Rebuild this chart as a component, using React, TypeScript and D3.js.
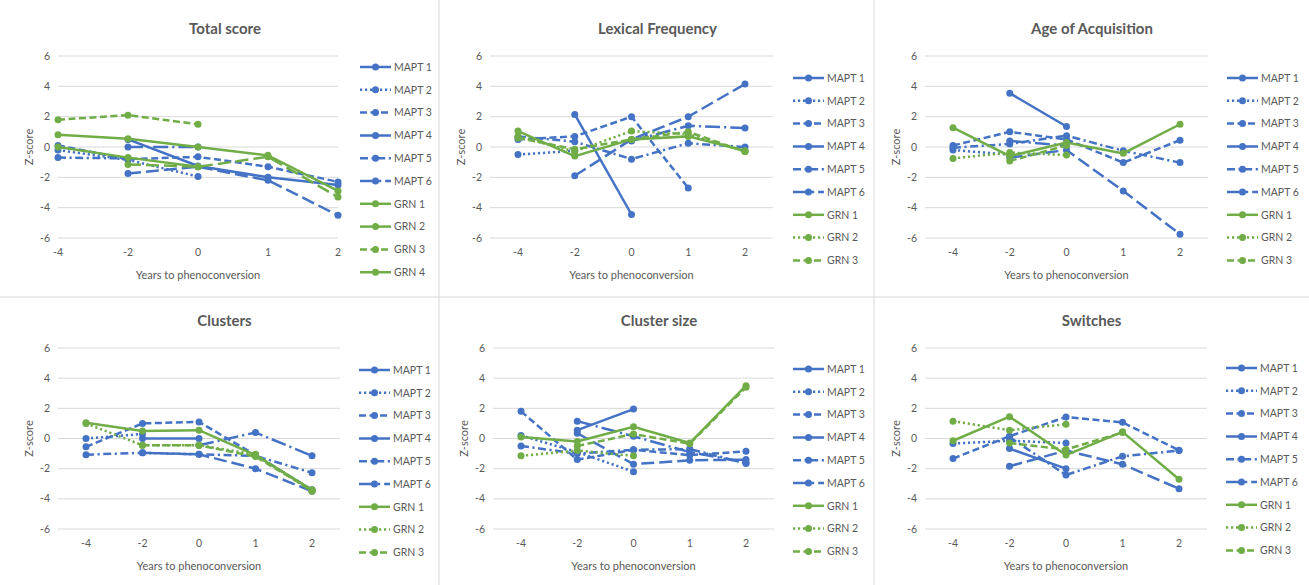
import React from "react";
import * as d3 from "d3";

// categories and ticks
const years = ["-4", "-2", "0", "1", "2"];
const zTicks = [-6, -4, -2, 0, 2, 4, 6];

const maptNames = ["MAPT 1", "MAPT 2", "MAPT 3", "MAPT 4", "MAPT 5", "MAPT 6"];
const grnNames4 = ["GRN 1", "GRN 2", "GRN 3", "GRN 4"];
const grnNames3 = ["GRN 1", "GRN 2", "GRN 3"];

type V = number | null;
const _ = null;

// values per series (rows follow the legend order), one column per year
const totalScore: V[][] = [
  [_, 0.5, -1.25, -2.0, -2.5],
  [-0.2, -0.85, -1.95, _, _],
  [0.1, -0.8, -0.65, -1.3, -2.3],
  [_, -1.75, -1.3, -2.2, -4.5],
  [-0.7, -0.75, _, _, _],
  [_, 0.0, 0.0, _, _],
  [0.8, 0.55, 0.0, -0.55, -2.9],
  [0.0, -0.7, -1.3, _, _],
  [1.8, 2.1, 1.5, _, _],
  [_, -1.15, -1.3, -0.65, -3.3],
];

const lexicalFrequency: V[][] = [
  [_, 2.15, -4.45, _, _],
  [-0.5, -0.25, _, _, _],
  [0.5, 0.7, 2.0, -2.7, _],
  [_, -1.9, 0.5, 2.0, 4.15],
  [0.7, 0.35, -0.8, 0.25, 0.0],
  [_, _, 0.4, 1.4, 1.25],
  [1.05, -0.6, 0.5, 0.7, -0.25],
  [0.7, -0.3, 1.05, 0.85, -0.3],
  [0.6, -0.15, 0.5, 1.0, -0.3],
];

const ageOfAcquisition: V[][] = [
  [_, 3.55, 1.35, _, _],
  [-0.2, -0.5, _, _, _],
  [0.1, 1.0, 0.5, -1.03, 0.45],
  [_, -0.7, -0.2, -2.9, -5.75],
  [-0.05, 0.2, 0.75, -0.25, -1.03],
  [_, 0.4, 0.1, _, _],
  [1.27, -0.6, 0.3, -0.42, 1.5],
  [-0.75, -0.37, -0.53, _, _],
  [_, -0.92, 0.1, _, _],
];

const clusters: V[][] = [
  [_, 0.0, 0.0, _, _],
  [0.0, 0.3, _, _, _],
  [-0.55, 1.0, 1.1, -1.1, -3.4],
  [_, -0.95, -1.05, -2.0, -3.5],
  [-1.07, -0.95, -1.05, -1.15, -2.27],
  [_, _, -0.45, 0.4, -1.15],
  [1.05, 0.5, 0.55, -1.1, -3.4],
  [1.0, -0.45, -0.45, -1.05, -3.5],
  [_, -0.45, -0.45, -1.2, -3.45],
];

const clusterSize: V[][] = [
  [_, 0.55, 1.95, _, _],
  [0.2, -0.9, -2.2, _, _],
  [1.8, -1.4, -0.75, -1.1, -0.85],
  [_, 0.35, -1.7, -1.45, -1.4],
  [-0.5, -1.0, -0.75, -0.7, -1.65],
  [_, 1.15, 0.15, -0.9, -1.6],
  [0.1, -0.2, 0.78, -0.3, 3.5],
  [-1.15, -0.8, -1.15, _, _],
  [_, -0.5, 0.3, -0.35, 3.4],
];

const switches: V[][] = [
  [_, -0.67, -2.0, _, _],
  [-0.33, -0.15, -0.3, _, _],
  [-1.33, 0.15, 1.42, 1.07, -0.78],
  [_, -1.84, -0.8, -1.71, -3.33],
  [_, 0.1, -2.42, -1.18, -0.8],
  [_, _, _, _, _],
  [-0.15, 1.45, -1.1, 0.44, -2.7],
  [1.15, 0.55, 0.95, _, _],
  [_, -0.3, -0.73, 0.4, _],
];

const BLUE = "#4472C4";
const GREEN = "#70AD47";
const GRID = "#d9d9d9";
const TEXT = "#595959";
const FONT = "Lato, 'Open Sans', sans-serif";

const dashes = {
  solid: "none",
  dot: "2.2 2.8",
  dash: "7 3.5",
  longDash: "13 5",
  dashDot: "8 3.5 2.2 3.5",
  longDashDot: "15 4 2.2 4",
};
const maptDash = [dashes.solid, dashes.dot, dashes.dash, dashes.longDash, dashes.dashDot, dashes.longDashDot];
const grnDash4 = [dashes.solid, dashes.solid, dashes.dash, dashes.longDash];
const grnDash3 = [dashes.solid, dashes.dot, dashes.dash];

type Panel = {
  title: string;
  values: V[][];
  grn: string[];
  grnDash: string[];
  gx0: number;
  gx1: number;
  inset: number;
  yTop: number;
  yBot: number;
  legendX: number;
  legendY: number;
};

const panels: Panel[] = [
  { title: "Total score", values: totalScore, grn: grnNames4, grnDash: grnDash4, gx0: 58, gx1: 338, inset: 0, yTop: 56, yBot: 238, legendX: 360, legendY: 67 },
  { title: "Lexical Frequency", values: lexicalFrequency, grn: grnNames3, grnDash: grnDash3, gx0: 490, gx1: 773, inset: 28, yTop: 56, yBot: 238, legendX: 793, legendY: 78 },
  { title: "Age of Acquisition", values: ageOfAcquisition, grn: grnNames3, grnDash: grnDash3, gx0: 925, gx1: 1208, inset: 28, yTop: 56, yBot: 238, legendX: 1227, legendY: 78 },
  { title: "Clusters", values: clusters, grn: grnNames3, grnDash: grnDash3, gx0: 58, gx1: 340, inset: 28, yTop: 348, yBot: 529, legendX: 359, legendY: 370 },
  { title: "Cluster size", values: clusterSize, grn: grnNames3, grnDash: grnDash3, gx0: 493, gx1: 774, inset: 28, yTop: 348, yBot: 529, legendX: 793, legendY: 369 },
  { title: "Switches", values: switches, grn: grnNames3, grnDash: grnDash3, gx0: 925, gx1: 1207, inset: 28, yTop: 348, yBot: 529, legendX: 1226, legendY: 368 },
];

const ChartPanel = ({ p }: { p: Panel }) => {
  const x = d3.scalePoint<string>().domain(years).range([p.gx0 + p.inset, p.gx1 - p.inset]);
  const y = d3.scaleLinear().domain([-6, 6]).range([p.yBot, p.yTop]);
  const line = d3
    .line<V>()
    .defined((d) => d != null)
    .x((_d, i) => x(years[i]) as number)
    .y((d) => y(d as number));

  const names = [...maptNames, ...p.grn];
  const colors = names.map((n) => (n.startsWith("MAPT") ? BLUE : GREEN));
  const dashArr = [...maptDash, ...p.grnDash];
  const cx = (p.gx0 + p.gx1) / 2;

  return (
    <g>
      <text x={cx + (p.legendX - p.gx1) / 2 + 16} y={p.yTop - 22} textAnchor="middle" fontSize={15} fontWeight="bold" fill={TEXT}>
        {p.title}
      </text>
      {zTicks.map((t) => (
        <g key={t}>
          <line x1={p.gx0} x2={p.gx1} y1={y(t)} y2={y(t)} stroke={GRID} strokeWidth={1} />
          <text x={p.gx0 - 8} y={y(t) + 3.5} textAnchor="end" fontSize={10.5} fill={TEXT}>
            {t}
          </text>
        </g>
      ))}
      {years.map((yr) => (
        <text key={yr} x={x(yr)} y={p.yBot + 18} textAnchor="middle" fontSize={10.5} fill={TEXT}>
          {yr}
        </text>
      ))}
      <text x={cx} y={p.yBot + 41} textAnchor="middle" fontSize={11} fill={TEXT}>
        Years to phenoconversion
      </text>
      <text
        transform={`translate(${p.gx0 - 25},${y(0)}) rotate(-90)`}
        textAnchor="middle"
        fontSize={11}
        fill={TEXT}
      >
        Z-score
      </text>
      {p.values.map((row, i) => (
        <g key={names[i]}>
          <path d={line(row) || ""} fill="none" stroke={colors[i]} strokeWidth={2.5} strokeDasharray={dashArr[i]} />
          {row.map((v, j) =>
            v == null ? null : <circle key={j} cx={x(years[j])} cy={y(v)} r={3.5} fill={colors[i]} />
          )}
        </g>
      ))}
      {names.map((n, i) => {
        const ly = p.legendY + i * 22.8;
        return (
          <g key={n}>
            <line x1={p.legendX} x2={p.legendX + 31} y1={ly} y2={ly} stroke={colors[i]} strokeWidth={2.5} strokeDasharray={dashArr[i]} />
            <circle cx={p.legendX + 15.5} cy={ly} r={3.5} fill={colors[i]} />
            <text x={p.legendX + 34} y={ly + 3.7} fontSize={10.5} fill={TEXT}>
              {n}
            </text>
          </g>
        );
      })}
    </g>
  );
};

export default function App() {
  return (
    <svg
      width={1309}
      height={585}
      style={{ position: "absolute", left: 0, top: 0, background: "#fff", fontFamily: FONT }}
    >
      <rect width={1309} height={585} fill="#fff" />
      <line x1={439} x2={439} y1={0} y2={585} stroke={GRID} />
      <line x1={874} x2={874} y1={0} y2={585} stroke={GRID} />
      <line x1={0} x2={1309} y1={297} y2={297} stroke={GRID} />
      {panels.map((p) => (
        <ChartPanel key={p.title} p={p} />
      ))}
    </svg>
  );
}
